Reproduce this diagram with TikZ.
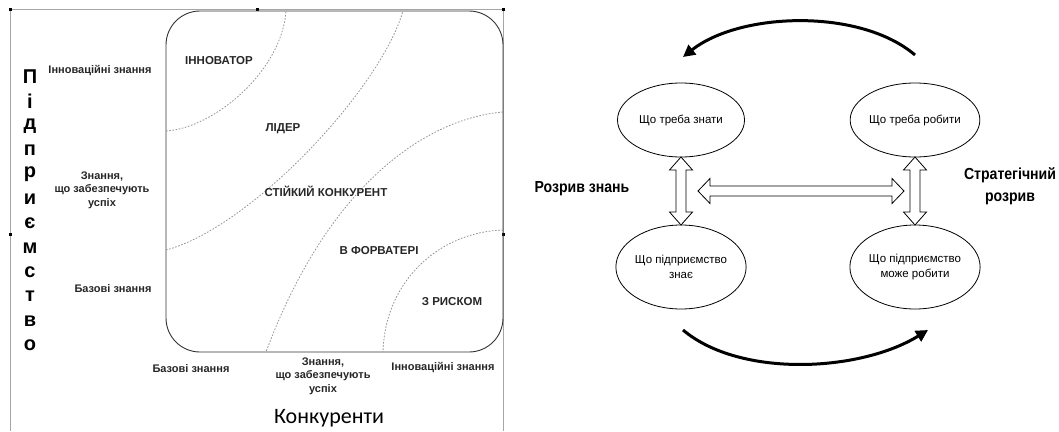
\documentclass[tikz,border=0pt]{standalone}
\usepackage{fontspec}
\setmainfont{Liberation Sans}
\newfontfamily\calfont{Carlito}
\newfontfamily\condfont{Liberation Sans}[FakeStretch=0.88]
\usetikzlibrary{shapes.geometric, arrows, arrows.meta, calc}

\begin{document}
\begin{tikzpicture}[x=1pt, y=-1pt,
    zone/.style={gray!85, line width=0.8pt, dash pattern=on 1.6pt off 1.6pt},
    axlabel/.style={font=\fontsize{11}{13.5}\selectfont\bfseries, align=center, inner sep=0pt, text=black!85},
    kind/.style={font=\fontsize{11.5}{14}\selectfont\bfseries, inner sep=0pt, text=black!85},
    vletter/.style={font=\fontsize{20}{20}\selectfont\bfseries, inner sep=0pt},
    blob/.style={ellipse, draw, line width=0.8pt, minimum width=127pt, inner sep=0pt, outer sep=0pt,
        align=center, font=\fontsize{11.5}{15}\selectfont},
    hollow/.style={draw, fill=white, line width=0.8pt, line join=miter},
    cycarrow/.style={line width=3pt, -{Triangle[length=12pt,width=12pt]}},
    gaplabel/.style={font=\condfont\fontsize{16}{22}\selectfont\bfseries, align=center, inner sep=0pt}
]
    \useasboundingbox (0,0) rectangle (1059,431);

    % left panel: frame and handles
    \draw[gray!70, line width=1pt] (10,431) -- (10,9) -- (503,9) -- (503,431);
    \foreach \hx/\hy in {10/9, 257/9, 503/9, 10/234, 503/234}
        \fill (\hx-1.5,\hy-1.5) rectangle ++(3,3);

    % knowledge field
    \draw[gray!40!black, line width=0.9pt, rounded corners=34pt] (166,11) rectangle (503,352);
    \draw[zone] (166,131) .. controls (215,128) and (282,70) .. (286,11);
    \draw[zone] (166,250) .. controls (250,228) and (380,90) .. (403,11);
    \draw[zone] (503,112) .. controls (430,118) and (330,180) .. (266,352);
    \draw[zone] (503,230) .. controls (440,232) and (385,280) .. (383,352);

    \node[kind] (innov) at (219,61) {ІННОВАТОР};
    \node[kind] (lead) at (283,129) {ЛІДЕР};
    \node[kind] (stable) at (326,191) {СТІЙКИЙ КОНКУРЕНТ};
    \node[kind] (fair) at (379,251) {В ФОРВАТЕРІ};
    \node[kind] (risk) at (452,302) {З РИСКОМ};

    \node[axlabel] (yhigh) at (100,71) {Інноваційні знання};
    \node[axlabel] (ymid) at (102,190) {Знання,\\що забезпечують\\успіх};
    \node[axlabel] (ylow) at (113,289) {Базові знання};
    \node[axlabel] (xlow) at (191,369) {Базові знання};
    \node[axlabel] (xmid) at (323,376) {Знання,\\що забезпечують\\успіх};
    \node[axlabel] (xhigh) at (443,367) {Інноваційні знання};

    \node[font=\calfont\fontsize{22}{22}\selectfont, inner sep=0pt] (rivals) at (329,418) {Конкуренти};
    \foreach \ch [count=\i from 0] in {П,і,д,п,р,и,є,м,с,т,в,о}
        \node[vletter] (firm\i) at (30,77+24.4*\i) {\ch};

    % right panel: gaps
    \node[blob, minimum height=74pt] (need) at (681,120) {Що треба знати};
    \node[blob, minimum height=74pt] (todo) at (915,120) {Що треба робити};
    \node[blob, minimum height=84pt] (have) at (681,267) {Що підприємство\\знає};
    \node[blob, minimum height=84pt] (can) at (915,267) {Що підприємство\\може робити};

    \coordinate (gapK) at ($(need.south)!.5!(have.north)$);
    \coordinate (gapS) at ($(todo.south)!.5!(can.north)$);

    \draw[hollow] (need.south) -- ++(11.5,13) -- ++(-6.5,0) -- ++(0,42) -- ++(6.5,0) -- (have.north)
        -- ++(-11.5,-13) -- ++(6.5,0) -- ++(0,-42) -- ++(-6.5,0) -- cycle;
    \draw[hollow] (todo.south) -- ++(11.5,13) -- ++(-6.5,0) -- ++(0,42) -- ++(6.5,0) -- (can.north)
        -- ++(-11.5,-13) -- ++(6.5,0) -- ++(0,-42) -- ++(-6.5,0) -- cycle;
    \draw[hollow] ([xshift=17pt]gapK) -- ++(12,-12.5) -- ++(0,7.5) -- ++(182,0) -- ++(0,-7.5) -- ([xshift=-11pt]gapS)
        -- ++(-12,12.5) -- ++(0,-7.5) -- ++(-182,0) -- ++(0,7.5) -- cycle;

    \coordinate (loopA) at ([yshift=28pt]todo.north);
    \coordinate (loopB) at ([xshift=2pt,yshift=26pt]need.north);
    \coordinate (loopC) at ([xshift=2pt,yshift=-21pt]have.south);
    \coordinate (loopD) at ([xshift=13pt,yshift=-21pt]can.south);
    \draw[cycarrow] (loopA) .. controls (860,8) and (740,12) .. (loopB);
    \draw[cycarrow] (loopC) .. controls (740,378) and (860,372) .. (loopD);

    \node[gaplabel] (knowgap) at (582,189) {Розрив знань};
    \node[gaplabel] (stratgap) at (1010,186) {Стратегічний\\розрив};
\end{tikzpicture}
\end{document}
